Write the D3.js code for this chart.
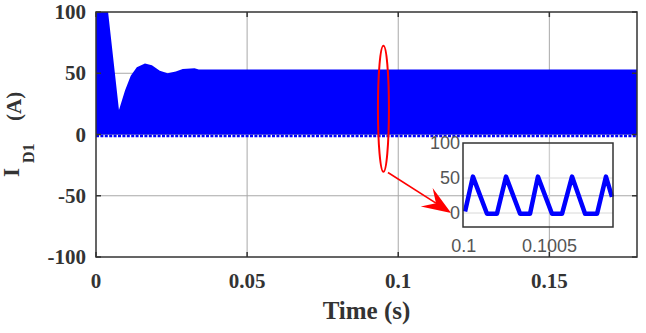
<!DOCTYPE html>
<html>
<head>
<meta charset="utf-8">
<script src="https://cdn.jsdelivr.net/npm/d3@7"></script>
<style>
  html, body { margin: 0; padding: 0; background: #fff; }
</style>
</head>
<body>
<div id="chart"></div>
<script>
// main axis ticks
const xTicks = [0, 0.05, 0.1, 0.15];
const yTicks = [-100, -50, 0, 50, 100];

// upper envelope of the fast switching current
const envTime  = [0, 0.004, 0.0076, 0.0096, 0.0115, 0.0135, 0.0162, 0.0185, 0.0211, 0.0237, 0.0264, 0.0287, 0.0326, 0.034, 0.179];
const envUpper = [100, 100, 20, 36, 48, 55, 58, 56.5, 52, 50, 51.5, 53.5, 54, 53, 53];
const envLower = -1.2;

// zoomed inset waveform
const insetXTicks = [0.1, 0.1005];
const insetYTicks = [0, 50, 100];
const insetTime = [0.100007, 0.100053, 0.100135, 0.100193, 0.100246, 0.100328, 0.100386, 0.100432,
                   0.100514, 0.100573, 0.100631, 0.100707, 0.100777, 0.100829, 0.100864];
const insetCurrent = [2, 52, -1, -1, 52, -1, -1, 52, -1, -1, 52, -1, -1, 52, 23];

const width = 646, height = 333;
const serif = "'Liberation Serif', 'Times New Roman', serif";
const sans = "'Liberation Sans', Arial, sans-serif";

const svg = d3.select('#chart')
    .append('svg')
    .attr('width', width)
    .attr('height', height);

const x = d3.scaleLinear().domain([0, 0.179]).range([96, 637]);
const y = d3.scaleLinear().domain([-100, 100]).range([257, 12]);

svg.append('defs').append('clipPath').attr('id', 'plotclip')
    .append('rect')
    .attr('x', x(0)).attr('y', y(100))
    .attr('width', x(0.179) - x(0)).attr('height', y(-100) - y(100));

// grid
const grid = svg.append('g').attr('stroke', '#a8a8a8').attr('stroke-width', 1);
xTicks.slice(1).forEach(t => {
    grid.append('line').attr('x1', x(t)).attr('x2', x(t)).attr('y1', y(100)).attr('y2', y(-100));
});
yTicks.slice(1, -1).forEach(v => {
    grid.append('line').attr('x1', x(0)).attr('x2', x(0.179)).attr('y1', y(v)).attr('y2', y(v));
});

// the dense switching current shows as a filled band
const plot = svg.append('g').attr('clip-path', 'url(#plotclip)');
const env = envTime.map((t, i) => ({ t: t, v: envUpper[i] }));
plot.append('path')
    .datum(env)
    .attr('fill', '#0000ff')
    .attr('d', d3.area().x(d => x(d.t)).y0(y(0)).y1(d => y(d.v)));
plot.append('line')
    .attr('x1', x(0)).attr('x2', x(0.179))
    .attr('y1', y(envLower)).attr('y2', y(envLower))
    .attr('stroke', '#0000ff')
    .attr('stroke-width', 2.5)
    .attr('stroke-dasharray', '3 1.4');

// box and inward ticks
const axisG = svg.append('g').attr('stroke', '#333').attr('stroke-width', 1.5).attr('fill', 'none');
axisG.append('rect')
    .attr('x', x(0)).attr('y', y(100))
    .attr('width', x(0.179) - x(0)).attr('height', y(-100) - y(100));
xTicks.forEach(t => {
    axisG.append('line').attr('x1', x(t)).attr('x2', x(t)).attr('y1', y(-100)).attr('y2', y(-100) - 5);
    axisG.append('line').attr('x1', x(t)).attr('x2', x(t)).attr('y1', y(100)).attr('y2', y(100) + 5);
});
yTicks.forEach(v => {
    axisG.append('line').attr('x1', x(0)).attr('x2', x(0) + 5).attr('y1', y(v)).attr('y2', y(v));
    axisG.append('line').attr('x1', x(0.179)).attr('x2', x(0.179) - 5).attr('y1', y(v)).attr('y2', y(v));
});

// tick labels
svg.append('g').selectAll('text')
    .data(xTicks)
    .enter()
    .append('text')
    .attr('x', d => x(d))
    .attr('y', 288)
    .attr('text-anchor', 'middle')
    .attr('font-family', serif)
    .attr('font-weight', 'bold')
    .attr('font-size', 21)
    .attr('fill', '#333')
    .text(d => d3.format('~g')(d));

svg.append('g').selectAll('text')
    .data(yTicks)
    .enter()
    .append('text')
    .attr('x', 86)
    .attr('y', d => y(d) + 7)
    .attr('text-anchor', 'end')
    .attr('font-family', serif)
    .attr('font-weight', 'bold')
    .attr('font-size', 21)
    .attr('fill', '#333')
    .text(d => d);

svg.append('text')
    .attr('x', (x(0) + x(0.179)) / 2)
    .attr('y', 319)
    .attr('text-anchor', 'middle')
    .attr('font-family', serif)
    .attr('font-weight', 'bold')
    .attr('font-size', 25)
    .attr('fill', '#333')
    .text('Time (s)');

// y label: I_D1 (A)
const ylab = svg.append('g')
    .attr('font-family', serif)
    .attr('font-weight', 'bold')
    .attr('fill', '#333');
ylab.append('text')
    .attr('transform', 'translate(19,177) rotate(-90)')
    .attr('font-size', 23)
    .text('I');
ylab.append('text')
    .attr('transform', 'translate(34,163) rotate(-90)')
    .attr('font-size', 16)
    .text('D1');
ylab.append('text')
    .attr('transform', 'translate(21,121) rotate(-90)')
    .attr('font-size', 21)
    .text('(A)');

// red annotation: ellipse and arrow
const ann = svg.append('g').attr('stroke', '#ff0000').attr('fill', 'none');
ann.append('ellipse')
    .attr('cx', x(0.0951)).attr('cy', y(21))
    .attr('rx', 5.5).attr('ry', 63)
    .attr('stroke-width', 2);

const a0 = [x(0.0966), y(-31)];
const a1 = [x(0.1175), y(-64)];
const dx = a1[0] - a0[0], dy = a1[1] - a0[1];
const len = Math.hypot(dx, dy);
const ux = dx / len, uy = dy / len;
const headL = 29, headW = 11, notch = 18;
ann.append('line')
    .attr('x1', a0[0]).attr('y1', a0[1])
    .attr('x2', a1[0] - ux * notch).attr('y2', a1[1] - uy * notch)
    .attr('stroke-width', 1.6);
const base = [a1[0] - ux * headL, a1[1] - uy * headL];
const nb = [a1[0] - ux * notch, a1[1] - uy * notch];
svg.append('path')
    .attr('fill', '#ff0000')
    .attr('d', d3.line()([
        a1,
        [base[0] - uy * headW, base[1] + ux * headW],
        nb,
        [base[0] + uy * headW, base[1] - ux * headW],
        a1
    ]));

// inset
const ix = d3.scaleLinear().domain([0.099995, 0.100870]).range([463, 613]);
const iy = d3.scaleLinear().domain([-20, 100]).range([227, 143]);

const inset = svg.append('g');
insetXTicks.slice(1).forEach(t => {
    inset.append('line').attr('x1', ix(t)).attr('x2', ix(t)).attr('y1', iy(100)).attr('y2', iy(-20))
        .attr('stroke', '#d0d0d0');
});
insetYTicks.slice(0, -1).forEach(v => {
    inset.append('line').attr('x1', ix(0.099995)).attr('x2', ix(0.10087)).attr('y1', iy(v)).attr('y2', iy(v))
        .attr('stroke', '#d8d8d8');
});

inset.append('path')
    .datum(insetTime.map((t, i) => [ix(t), iy(insetCurrent[i])]))
    .attr('fill', 'none')
    .attr('stroke', '#0000ff')
    .attr('stroke-width', 4.5)
    .attr('stroke-linejoin', 'round')
    .attr('d', d3.line());

inset.append('rect')
    .attr('x', ix(0.099995)).attr('y', iy(100))
    .attr('width', ix(0.10087) - ix(0.099995)).attr('height', iy(-20) - iy(100))
    .attr('fill', 'none')
    .attr('stroke', '#333')
    .attr('stroke-width', 1.5);

inset.selectAll('.ixl')
    .data(insetXTicks)
    .enter()
    .append('text')
    .attr('x', d => ix(d))
    .attr('y', 252)
    .attr('text-anchor', 'middle')
    .attr('font-family', sans)
    .attr('font-size', 18)
    .attr('fill', '#555')
    .text(d => d);

inset.selectAll('.iyl')
    .data(insetYTicks)
    .enter()
    .append('text')
    .attr('x', 460)
    .attr('y', d => iy(d) + 6)
    .attr('text-anchor', 'end')
    .attr('font-family', sans)
    .attr('font-size', 18)
    .attr('fill', '#555')
    .text(d => d);
</script>
</body>
</html>
